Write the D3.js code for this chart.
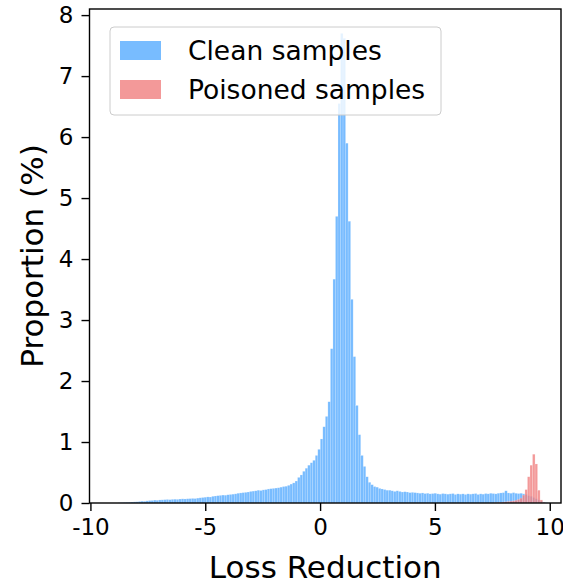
<!DOCTYPE html>
<meta charset="utf-8">
<script src="https://d3js.org/d3.v7.min.js"></script>
<style>
body { margin: 0; background: #fff; }
svg { display: block; font-family: "DejaVu Sans", sans-serif; }
.tick text { font-size: 23px; fill: #000; }
</style>
<body>
<div class="chart"></div>
<script>

// histogram bins: left edge of first bin and bin width
var binStart = -10,
    binWidth = 0.11;

// proportion (%) per bin
var cleanValues = [
  0, 0, 0, 0, 0, 0, 0, 0, 0, 0,
  0, 0.003, 0.005, 0.008, 0.01, 0.012, 0.015, 0.018, 0.02, 0.025,
  0.03, 0.028, 0.035, 0.04, 0.042, 0.048, 0.045, 0.05, 0.052, 0.055,
  0.058, 0.055, 0.06, 0.062, 0.06, 0.065, 0.068, 0.066, 0.07, 0.072,
  0.075, 0.073, 0.08, 0.085, 0.09, 0.095, 0.1, 0.098, 0.11, 0.115,
  0.12, 0.125, 0.13, 0.128, 0.135, 0.14, 0.145, 0.15, 0.16, 0.165,
  0.17, 0.175, 0.18, 0.19, 0.195, 0.2, 0.21, 0.205, 0.215, 0.22,
  0.23, 0.235, 0.24, 0.245, 0.25, 0.26, 0.27, 0.275, 0.29, 0.31,
  0.33, 0.36, 0.42, 0.46, 0.52, 0.57, 0.62, 0.66, 0.7, 0.78,
  0.88, 1.05, 1.25, 1.42, 1.66, 2.53, 3.67, 4.7, 6.55, 7.7,
  7.62, 5.9, 4.62, 3.34, 2.4, 1.6, 1.12, 0.78, 0.6, 0.43,
  0.34, 0.3, 0.27, 0.26, 0.24, 0.23, 0.22, 0.21, 0.21, 0.2,
  0.19, 0.2, 0.19, 0.18, 0.185, 0.18, 0.17, 0.175, 0.17, 0.165,
  0.16, 0.165, 0.155, 0.16, 0.15, 0.155, 0.16, 0.15, 0.145, 0.155,
  0.15, 0.145, 0.15, 0.155, 0.14, 0.15, 0.145, 0.15, 0.14, 0.15,
  0.145, 0.15, 0.155, 0.14, 0.15, 0.145, 0.155, 0.15, 0.16, 0.155,
  0.15, 0.16, 0.165, 0.17, 0.2, 0.165, 0.16, 0.17, 0.16, 0.155,
  0.16, 0.15, 0.14, 0.12, 0.11, 0.09, 0.07, 0.05, 0.03, 0.015,
  0.005, 0
];

var poisonedValues = [];
for (var i = 0; i < 160; i++) poisonedValues.push(0);
poisonedValues = poisonedValues.concat([
  0.005, 0.008, 0.01, 0.015, 0.02, 0.025, 0.03, 0.035, 0.045, 0.06,
  0.08, 0.13, 0.22, 0.43, 0.62, 0.8, 0.64, 0.21, 0.05, 0.01,
  0, 0
]);

var xTicks = [-10, -5, 0, 5, 10];
var yTicks = [0, 1, 2, 3, 4, 5, 6, 7, 8];
var seriesNames = ["Clean samples", "Poisoned samples"];

// layout
var margin = {top: 9, right: 2, bottom: 78, left: 89.5},
    totalW = 563, totalH = 581,
    width = totalW - margin.left - margin.right,
    height = totalH - margin.top - margin.bottom;

var svg = d3.select(".chart").append("svg")
    .attr("width", totalW)
    .attr("height", totalH);

var g = svg.append("g")
    .attr("transform", "translate(" + margin.left + "," + margin.top + ")");

var x = d3.scaleLinear().domain([-10.04, 10.49]).range([0, width]);
var y = d3.scaleLinear().domain([0, 8.1]).range([height, 0]);

function bins(values) {
  return values.map(function(v, i) {
    return {x0: binStart + i * binWidth, x1: binStart + (i + 1) * binWidth, v: v};
  }).filter(function(d) { return d.v > 0; });
}

// bars
function drawBars(values, fill, opacity) {
  g.append("g").selectAll("rect")
    .data(bins(values))
    .enter().append("rect")
      .attr("x", function(d) { return x(d.x0); })
      .attr("width", function(d) { return x(d.x1) - x(d.x0); })
      .attr("y", function(d) { return y(d.v); })
      .attr("height", function(d) { return y(0) - y(d.v); })
      .attr("fill", fill)
      .attr("fill-opacity", opacity)
      .attr("stroke", "#fff")
      .attr("stroke-opacity", 0.35)
      .attr("stroke-width", 0.5);
}
drawBars(cleanValues, "#1e90ff", 0.6);
drawBars(poisonedValues, "#f08080", 0.8);

// axes
var xAxis = g.append("g")
    .attr("transform", "translate(0," + height + ")")
    .call(d3.axisBottom(x).tickValues(xTicks).tickSize(8).tickPadding(8).tickFormat(d3.format("d")));
var yAxis = g.append("g")
    .call(d3.axisLeft(y).tickValues(yTicks).tickSize(8).tickPadding(8).tickFormat(d3.format("d")));

[xAxis, yAxis].forEach(function(a) {
  a.select(".domain").remove();
  a.selectAll(".tick line").attr("stroke", "#000").attr("stroke-width", 1.4);
  a.selectAll(".tick text").style("font-family", "DejaVu Sans");
});
xAxis.selectAll(".tick text").text(function(d) { return String(d).replace("\u2212", "-"); });

// frame
g.append("rect")
    .attr("width", width)
    .attr("height", height)
    .attr("fill", "none")
    .attr("stroke", "#000")
    .attr("stroke-width", 1.4);

// axis labels
svg.append("text")
    .attr("x", margin.left + width / 2)
    .attr("y", 578)
    .attr("text-anchor", "middle")
    .attr("font-size", 31)
    .text("Loss Reduction");

svg.append("text")
    .attr("transform", "translate(43," + (margin.top + height / 2) + ") rotate(-90)")
    .attr("text-anchor", "middle")
    .attr("font-size", 31)
    .text("Proportion (%)");

// legend
var legend = svg.append("g");
legend.append("rect")
    .attr("x", 110).attr("y", 27)
    .attr("width", 331).attr("height", 88)
    .attr("rx", 4)
    .attr("fill", "#fff").attr("fill-opacity", 0.8)
    .attr("stroke", "#ccc").attr("stroke-width", 1);

var legendColors = [["#1e90ff", 0.6], ["#f08080", 0.8]];
seriesNames.forEach(function(name, i) {
  legend.append("rect")
      .attr("x", 120).attr("y", 41 + i * 39)
      .attr("width", 41).attr("height", 19)
      .attr("fill", legendColors[i][0])
      .attr("fill-opacity", legendColors[i][1]);
  legend.append("text")
      .attr("x", 188).attr("y", 60 + i * 39)
      .attr("font-size", 26.5)
      .text(name);
});

</script>
</body>
</html>
